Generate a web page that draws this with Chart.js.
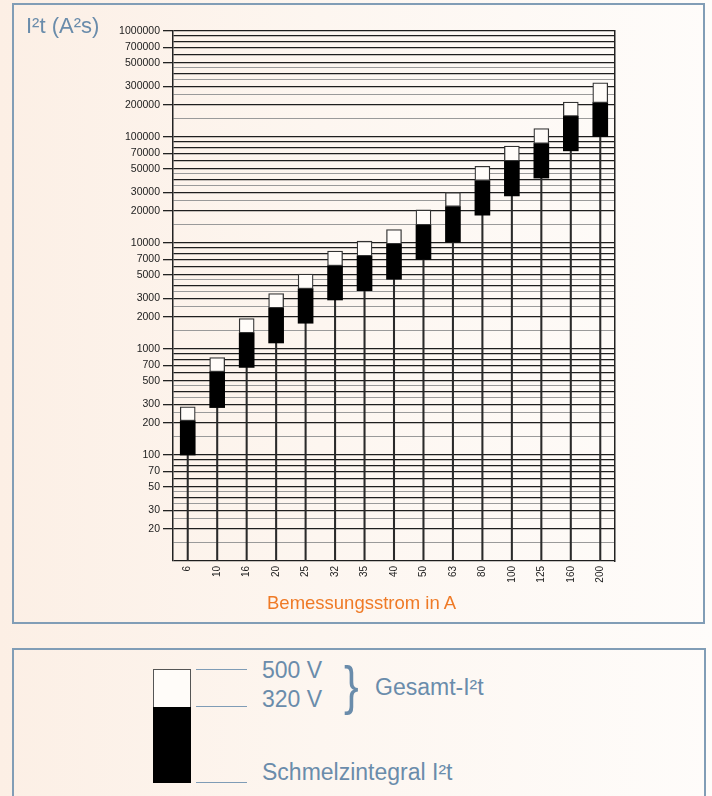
<!DOCTYPE html>
<html>
<head>
<meta charset="utf-8">
<script src="https://cdn.jsdelivr.net/npm/chart.js@4.4.0/dist/chart.umd.min.js"></script>
<style>
  html, body { margin: 0; padding: 0; }
  body {
    width: 712px; height: 796px; overflow: hidden; position: relative;
    background: linear-gradient(to right, #fcefe5 0%, #fdf6f0 45%, #fefcfa 100%);
    font-family: "Liberation Sans", Arial, sans-serif;
  }
  .panel { position: absolute; border: 2px solid #819db6; box-sizing: border-box; }
  #p1 { left: 12px; top: 3px; width: 693px; height: 621px; }
  #p2 { left: 12px; top: 648px; width: 694px; height: 200px; }
  #chartWrap { position: absolute; left: 0; top: 0; width: 712px; height: 610px; }
  .txt { position: absolute; white-space: nowrap; color: #6a8cab; }
  #ytitle { left: 26px; top: 13px; font-size: 22px; }
  #xtitle { left: 267px; top: 592px; font-size: 18.5px; color: #ef7a26; }
  .box { position: absolute; left: 153px; width: 38px; box-sizing: border-box; }
  .lg { position: absolute; left: 196px; width: 51px; height: 1px; background: #7f9cb6; }
  .lt { font-size: 23px; }
</style>
</head>
<body>
<div class="panel" id="p1"></div>
<div class="panel" id="p2"></div>
<div id="chartWrap"><canvas id="fuse" width="712" height="610"></canvas></div>
<div class="txt" id="ytitle">I²t (A²s)</div>
<div class="txt" id="xtitle">Bemessungsstrom in A</div>

<div class="box" style="top:669px;height:39px;background:#fffcf9;border:1px solid #555;"></div>
<div class="box" style="top:707px;height:76px;background:#000;"></div>
<div class="lg" style="top:669px;"></div>
<div class="lg" style="top:706px;"></div>
<div class="lg" style="top:782px;"></div>
<div class="txt lt" style="left:262px;top:657px;">500 V</div>
<div class="txt lt" style="left:262px;top:686px;">320 V</div>
<div class="txt" style="left:344px;top:660px;font-size:44px;line-height:52px;transform:scaleY(1.2);">}</div>
<div class="txt lt" style="left:375px;top:674px;">Gesamt-I²t</div>
<div class="txt lt" style="left:262px;top:759px;">Schmelzintegral I²t</div>

<script>
// Bemessungsstrom (A)
const currents = ['6', '10', '16', '20', '25', '32', '35', '40', '50', '63', '80', '100', '125', '160', '200'];
// Schmelzintegral I²t (A²s)
const meltI2t = [100, 280, 670, 1140, 1750, 2900, 3550, 4550, 7000, 10200, 18300, 27800, 41000, 74000, 101000];
// Gesamt-I²t at 320 V
const total320 = [210, 610, 1420, 2440, 3700, 6100, 7550, 9800, 14800, 22100, 38800, 59400, 87000, 157000, 211000];
// Gesamt-I²t at 500 V
const total500 = [285, 830, 1940, 3340, 5100, 8400, 10400, 13400, 20500, 30000, 53000, 82000, 120000, 214000, 324000];
// labelled y ticks
const yLabels = [20, 30, 50, 70, 100, 200, 300, 500, 700, 1000, 2000, 3000, 5000, 7000, 10000,
  20000, 30000, 50000, 70000, 100000, 200000, 300000, 500000, 700000, 1000000];

const yMin = 10, yMax = 1000000;

// grid lines: 1..9 per decade (dark) plus 1.5..4.5 (grey)
const mant = [1, 1.5, 2, 2.5, 3, 3.5, 4, 4.5, 5, 6, 7, 8, 9];
let gridVals = [];
for (let d = 10; d < yMax; d *= 10) {
  for (let m of mant) gridVals.push(Math.round(m * d));
}
gridVals.push(yMax);

function isHalf(v) {
  let m = v / Math.pow(10, Math.floor(Math.log10(v)));
  return Math.abs(m - Math.round(m)) > 0.01;
}

Chart.defaults.font.family = '"Liberation Sans", Arial, sans-serif';

new Chart(document.getElementById('fuse'), {
  type: 'bar',
  data: {
    labels: currents,
    datasets: [
      {
        label: '500 V',
        data: currents.map((c, i) => [total320[i], total500[i]]),
        backgroundColor: '#fffcf9',
        borderColor: '#333',
        borderWidth: 1.3,
        borderSkipped: false,
        barThickness: 15,
        grouped: false,
        order: 1
      },
      {
        label: '320 V',
        data: currents.map((c, i) => [meltI2t[i], total320[i]]),
        backgroundColor: '#000',
        borderWidth: 0,
        barThickness: 15,
        grouped: false,
        order: 2
      },
      {
        label: 'stem',
        data: currents.map((c, i) => [yMin, meltI2t[i]]),
        backgroundColor: '#2a2a2a',
        borderWidth: 0,
        barThickness: 1.4,
        grouped: false,
        order: 3
      }
    ]
  },
  options: {
    responsive: false,
    animation: false,
    layout: { padding: { top: 31, right: 97, bottom: 0, left: 0 } },
    plugins: { legend: { display: false }, tooltip: { enabled: false } },
    scales: {
      x: {
        grid: { display: false, drawTicks: false },
        border: { display: false },
        ticks: {
          minRotation: 90, maxRotation: 90, autoSkip: false,
          color: '#222', font: { size: 10 }, padding: 5
        },
        afterFit: (s) => { s.height = 49; }
      },
      y: {
        type: 'logarithmic',
        min: yMin, max: yMax,
        afterBuildTicks: (s) => { s.ticks = gridVals.map(v => ({ value: v })); },
        afterFit: (s) => { s.width = 173; },
        border: { display: true, color: '#222', width: 1.5 },
        grid: {
          color: (ctx) => isHalf(ctx.tick.value) ? '#9a9a9a' : '#1e1e1e',
          lineWidth: (ctx) => isHalf(ctx.tick.value) ? 1 : 1.3,
          tickLength: 10,
          tickColor: (ctx) => yLabels.includes(ctx.tick.value) ? '#222' : 'rgba(0,0,0,0)'
        },
        ticks: {
          autoSkip: false,
          color: '#222',
          font: { size: 10.5 },
          padding: 3,
          callback: (v) => yLabels.includes(v) ? String(v) : ''
        }
      },
      y2: {
        type: 'linear',
        position: 'right',
        min: 0, max: 1,
        grid: { drawOnChartArea: false, drawTicks: false },
        border: { display: true, color: '#222', width: 1.5 },
        ticks: { display: false },
        afterFit: (s) => { s.width = 0; }
      }
    }
  }
});
</script>
</body>
</html>
